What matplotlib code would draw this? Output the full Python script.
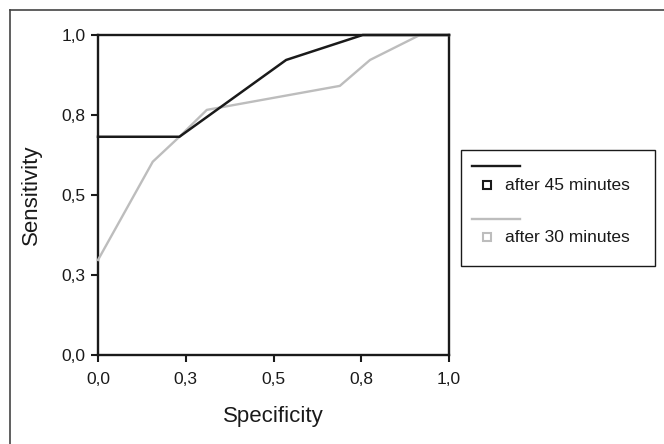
import matplotlib
matplotlib.use("Agg")
import matplotlib.pyplot as plt
from matplotlib.lines import Line2D
from matplotlib.patches import Rectangle

plt.rcParams['font.family'] = ['Liberation Sans', 'DejaVu Sans']

# ROC-Kurven (1 - Spezifität wie im Original als "Specificity" beschriftet)
spec_45 = [0.0, 0.232, 0.536, 0.754, 1.0]
sens_45 = [0.682, 0.682, 0.922, 1.0, 1.0]

spec_30 = [0.0, 0.156, 0.232, 0.310, 0.689, 0.775, 0.917, 1.0]
sens_30 = [0.297, 0.604, 0.682, 0.766, 0.841, 0.922, 1.0, 1.0]

tick_pos = [0.0, 0.25, 0.5, 0.75, 1.0]
tick_labels = ["0,0", "0,3", "0,5", "0,8", "1,0"]

labels = ["after 45 minutes", "after 30 minutes"]
colors = ["#1a1a1a", "#bdbdbd"]

fig = plt.figure(figsize=(6.64, 4.44), dpi=100)
W, H = 664, 444

def fx(px):
    return px / W

def fy(py):
    return 1 - py / H

ax = fig.add_axes([fx(98), fy(355), fx(449) - fx(98), fy(35) - fy(355)])

ax.plot(spec_30, sens_30, color=colors[1], lw=1.7, zorder=3, clip_on=False)
ax.plot(spec_45, sens_45, color=colors[0], lw=1.8, zorder=4, clip_on=False)

ax.set_xlim(0, 1)
ax.set_ylim(0, 1)
ax.set_xticks(tick_pos)
ax.set_xticklabels(tick_labels)
ax.set_yticks(tick_pos)
ax.set_yticklabels(tick_labels)
ax.tick_params(direction='out', length=5, width=1.5, labelsize=12.5, colors='#1a1a1a')
ax.tick_params(axis='x', pad=7)
ax.tick_params(axis='y', pad=4)
for s in ax.spines.values():
    s.set_linewidth(1.7)
    s.set_color('#1a1a1a')
ax.spines['top'].set_zorder(2)

ax.set_xlabel("Specificity", fontsize=16, color='#1a1a1a', labelpad=14)
ax.set_ylabel("Sensitivity", fontsize=16, color='#1a1a1a', labelpad=14)

# Legende von Hand (Linie ohne Text, darunter Quadrat mit Text)
fig.patches.append(Rectangle((fx(461), fy(266)), fx(655) - fx(461), fy(150) - fy(266),
                             transform=fig.transFigure, fill=False, ec='#1a1a1a', lw=1.0))
rows = [(166, 185), (219, 237)]
for (yl, ym), lab, c in zip(rows, labels, colors):
    fig.lines.append(Line2D([fx(472), fx(520)], [fy(yl), fy(yl)], transform=fig.transFigure,
                            color=c, lw=1.7))
    fig.lines.append(Line2D([fx(487)], [fy(ym)], transform=fig.transFigure, marker='s',
                            ms=5.5, mfc='white', mec=c, mew=1.5, ls='none'))
    fig.text(fx(505), fy(ym), lab, fontsize=12.5, color='#1a1a1a', va='center', ha='left')

# Rahmen (nur oben und links sichtbar)
fig.lines.append(Line2D([fx(9.5), 1], [fy(10), fy(10)], transform=fig.transFigure, color='#444444', lw=1.2))
fig.lines.append(Line2D([fx(9.5), fx(9.5)], [0, fy(10)], transform=fig.transFigure, color='#444444', lw=1.2))

fig.savefig("out.png", dpi=100)
